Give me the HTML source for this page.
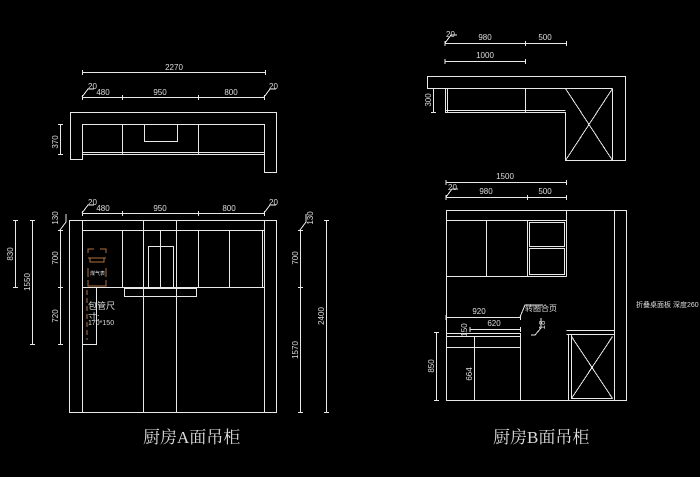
<!DOCTYPE html>
<html><head><meta charset="utf-8"><style>
html,body{margin:0;padding:0;background:#000;width:700px;height:477px;overflow:hidden}
svg{display:block}
text{fill:#ddd;font-family:"Liberation Sans","Noto Sans CJK SC",sans-serif}
</style></head><body>
<svg width="700" height="477" viewBox="0 0 700 477" xmlns="http://www.w3.org/2000/svg">
<g stroke="#e8e8e8" stroke-width="1" fill="none" shape-rendering="crispEdges">
<path d="M70.5 112.5H276.5V172.5H264.5V154.5H82.5V159.5H70.5Z"/>
<rect x="82.5" y="124.5" width="182" height="30"/>
<path d="M122.5 124.5V154.5M198.5 124.5V154.5M144.5 124.5V141.5H177.5V124.5M82.5 152.5H264.5"/>
<path d="M82.5 72.5H265.5M82.5 70V75M265.5 70V75"/>
<path d="M82.5 97.5H264.5M82.5 95V100M122.5 95V100M198.5 95V100M264.5 95V100"/>
<path d="M60.5 124.5V154.5M58 124.5H63M58 154.5H63"/>
<path d="M82 97L88 89H94M264 97L270 89H276"/>
<rect x="69.5" y="220.5" width="207" height="192"/>
<path d="M82.5 220.5V412.5M264.5 220.5V412.5M82.5 230.5H264.5M82.5 287.5H264.5"/>
<path d="M122.5 230.5V287.5M143.5 220.5V412.5M176.5 220.5V412.5M160.5 230.5V287.5M198.5 230.5V287.5M229.5 230.5V287.5M262.5 230.5V287.5"/>
<rect x="148.5" y="246.5" width="25" height="41"/>
<rect x="124.5" y="288.5" width="72" height="8"/>
<path d="M82.5 287.5V344.5H96.5V287.5"/>
<path d="M82.5 213.5H264.5M82.5 211V216M122.5 211V216M198.5 211V216M264.5 211V216M82 213L88 205H94M264 213L270 205H276"/>
<path d="M15.5 220.5V287.5M13 220.5H18M13 287.5H18"/>
<path d="M32.5 220.5V344.5M30 220.5H35M30 344.5H35"/>
<path d="M60.5 230.5V344.5M58 230.5H63M58 287.5H63M58 344.5H63M60 230L66 222V214"/>
<path d="M300.5 230.5V412.5M298 230.5H303M298 287.5H303M298 412.5H303M300 230L306 222V214"/>
<path d="M326.5 220.5V412.5M324 220.5H329M324 412.5H329"/>
<path d="M427.5 76.5H625.5V160.5H565.5V112.5H445.5V88.5H427.5Z"/>
<path d="M445.5 88.5H565.5M525.5 88.5V112.5M612.5 88.5V160.5M565.5 88.5H612.5M565.5 88.5L612.5 160.5M612.5 88.5L565.5 160.5M447.5 88.5V112.5M445.5 110.5H565.5"/>
<path d="M445.5 43.5H566.5M445 41V46M525.5 41V46M566.5 41V46M445 43L451 35H457"/>
<path d="M445.5 61.5H525.5M445 59V64M525.5 59V64"/>
<path d="M433.5 88.5V112.5M431 88.5H436M431 112.5H436"/>
<path d="M446.5 210.5H626.5V400.5H446.5Z"/>
<path d="M614.5 210.5V400.5M446.5 220.5H566.5M566.5 210.5V276.5M446.5 276.5H566.5M486.5 220.5V276.5M527.5 220.5V276.5M529.5 222.5H564.5V246.5H529.5ZM529.5 248.5H564.5V274.5H529.5Z"/>
<path d="M446.5 333.5H520.5V400.5M446.5 347.5H520.5M446.5 336.5H520.5M474.5 336.5V400.5"/>
<path d="M566.5 330.5H614.5M566.5 334.5H614.5M568.5 334.5V400.5M571.5 334.5V398.5H612.5M571.5 336.5L612.5 398.5M612.5 336.5L571.5 398.5"/>
<path d="M446.5 182.5H566.5M446 180V185M566.5 180V185"/>
<path d="M446.5 197.5H566.5M446 195V200M527.5 195V200M566.5 195V200M446 197L452 189H458"/>
<path d="M446.5 317.5H520.5M446 315V320M520.5 315V320"/>
<path d="M470.5 329.5H520.5M470 327V332M520.5 327V332M520 317L525 305H543"/>
<path d="M436.5 332.5V400.5M434 332.5H439M434 400.5H439"/>
<path d="M474.5 348.5V400.5"/>
<path d="M531 335H535L541 328V318"/>
</g>
<g stroke="#b07040" fill="none" stroke-width="1">
<path d="M88 253V249H94M100 249H106V253M88 258H106M90 258V262H104V258M88 268V277M106 268V277M88 280V286H106V280" />
<path d="M87 290V340" stroke-dasharray="5,3"/>
</g>
<g font-size="8">
<text x="174" y="70" text-anchor="middle">2270</text>
<text x="88" y="89">20</text><text x="103" y="95" text-anchor="middle">480</text><text x="160" y="95" text-anchor="middle">950</text><text x="231" y="95" text-anchor="middle">800</text><text x="269" y="89">20</text>
<text x="88" y="205">20</text><text x="103" y="211" text-anchor="middle">480</text><text x="160" y="211" text-anchor="middle">950</text><text x="229" y="211" text-anchor="middle">800</text><text x="269" y="205">20</text>
<text x="88" y="309" font-size="9">包管尺</text><text x="88" y="320" font-size="9">寸:</text><text x="88" y="325" font-size="7">170*150</text>
<text x="90" y="275" font-size="5" fill="#b07040">煤气表</text>
<text x="446" y="37">20</text><text x="485" y="40" text-anchor="middle">980</text><text x="545" y="40" text-anchor="middle">500</text>
<text x="485" y="58" text-anchor="middle">1000</text>
<text x="505" y="179" text-anchor="middle">1500</text>
<text x="448" y="190">20</text><text x="486" y="194" text-anchor="middle">980</text><text x="545" y="194" text-anchor="middle">500</text>
<text x="479" y="314" text-anchor="middle">920</text><text x="494" y="326" text-anchor="middle">620</text>
<text x="525" y="311" font-size="8">转圈合页</text>
<text x="636" y="307" font-size="7">折叠桌面板 深度260</text>
</g>
<g font-size="8">
<text transform="translate(58,142) rotate(-90)" text-anchor="middle">370</text>
<text transform="translate(13,254) rotate(-90)" text-anchor="middle">830</text>
<text transform="translate(30,282) rotate(-90)" text-anchor="middle">1550</text>
<text transform="translate(58,218) rotate(-90)" text-anchor="middle">130</text>
<text transform="translate(58,258) rotate(-90)" text-anchor="middle">700</text>
<text transform="translate(58,316) rotate(-90)" text-anchor="middle">720</text>
<text transform="translate(313,218) rotate(-90)" text-anchor="middle">130</text>
<text transform="translate(298,258) rotate(-90)" text-anchor="middle">700</text>
<text transform="translate(298,350) rotate(-90)" text-anchor="middle">1570</text>
<text transform="translate(324,316) rotate(-90)" text-anchor="middle">2400</text>
<text transform="translate(431,100) rotate(-90)" text-anchor="middle">300</text>
<text transform="translate(434,366) rotate(-90)" text-anchor="middle">850</text>
<text transform="translate(472,374) rotate(-90)" text-anchor="middle">664</text>
<text transform="translate(467,330) rotate(-90)" text-anchor="middle">150</text>
<text transform="translate(545,325) rotate(-90)" text-anchor="middle">18</text>
</g>
<g font-size="17" style="font-family:'Liberation Serif','Noto Serif CJK SC',serif">
<text x="143" y="443" style="font-family:'Liberation Serif','Noto Serif CJK SC',serif">厨房A面吊柜</text>
<text x="493" y="443" style="font-family:'Liberation Serif','Noto Serif CJK SC',serif">厨房B面吊柜</text>
</g>
</svg>
</body></html>
